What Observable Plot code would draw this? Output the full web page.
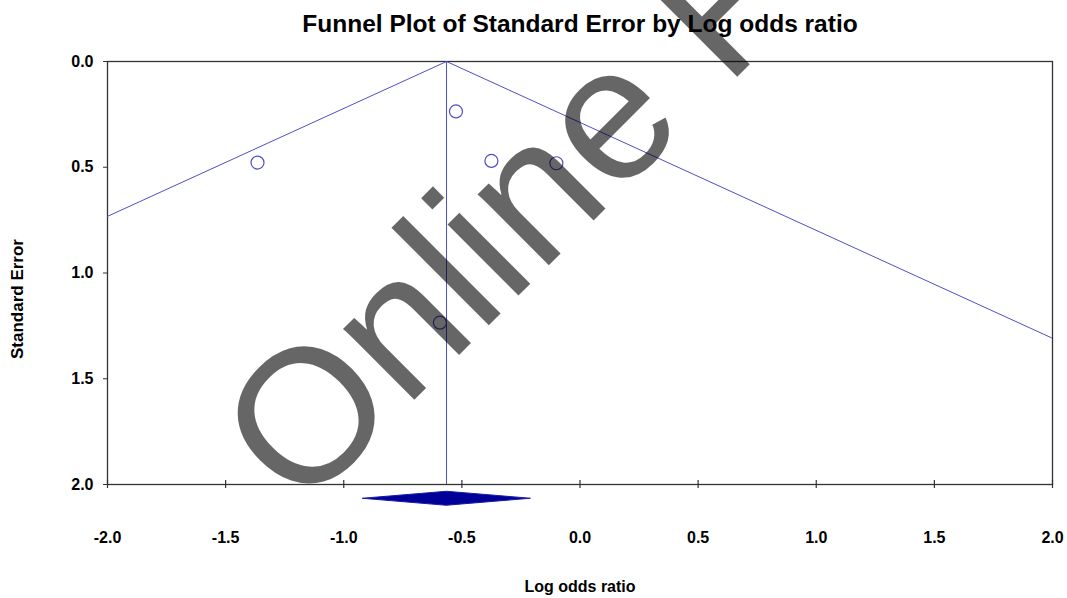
<!DOCTYPE html>
<html>
<head>
<meta charset="utf-8">
<script src="https://cdn.jsdelivr.net/npm/d3@7"></script>
<script src="https://cdn.jsdelivr.net/npm/@observablehq/plot@0.6"></script>
<style>
  html, body { margin: 0; padding: 0; background: #fff; }
  #chart svg { display: block; }
</style>
</head>
<body>
<div id="chart"></div>
<script>
// Individual studies: log odds ratio and its standard error
const studyLogOR = [-1.365, -0.525, -0.375, -0.100, -0.593];
const studySE    = [0.478, 0.236, 0.470, 0.481, 1.235];

// Pooled estimate and its 95% confidence interval
const pooledLogOR = -0.565;
const pooledLower = -0.92;
const pooledUpper = -0.21;

// Axis ticks
const xTicks = [-2.0, -1.5, -1.0, -0.5, 0.0, 0.5, 1.0, 1.5, 2.0];
const yTicks = [0.0, 0.5, 1.0, 1.5, 2.0];

const studies = studyLogOR.map((x, i) => ({x, se: studySE[i]}));

// Pseudo 95% confidence limits of the funnel, from the pooled estimate
const seMax = 2;
const funnel = [
  {x: pooledLogOR - 1.96 * seMax, se: seMax},
  {x: pooledLogOR, se: 0},
  {x: pooledLogOR + 1.96 * seMax, se: seMax}
];

// Summary diamond, drawn just below the frame
const diamondY = 2.065, diamondHalf = 0.033;
const diamond = [
  {x: pooledLower, se: diamondY},
  {x: pooledLogOR, se: diamondY - diamondHalf},
  {x: pooledUpper, se: diamondY},
  {x: pooledLogOR, se: diamondY + diamondHalf}
];

const blue = "#4f4fc9";
const fmt = d => d.toFixed(1);

const chart = Plot.plot({
  width: 1067,
  height: 598,
  marginLeft: 107,
  marginRight: 15,
  marginTop: 61,
  marginBottom: 114,
  style: {fontFamily: "'Liberation Sans', Arial, sans-serif", color: "#000", background: "#fff"},
  x: {domain: [-2, 2]},
  y: {domain: [0, 2], reverse: true},
  marks: [
    Plot.frame({stroke: "#333", strokeWidth: 1.3}),
    Plot.axisY({ticks: yTicks, tickSize: 4, tickPadding: 10, tickFormat: fmt, label: null,
      fontSize: 16, fontWeight: "bold", stroke: "#333"}),
    Plot.axisX({ticks: xTicks, tickSize: 0, tickPadding: 47, tickFormat: fmt, label: null,
      fontSize: 16, fontWeight: "bold"}),
    Plot.tickX(xTicks, {x: d => d, insetTop: 419, insetBottom: -4, stroke: "#333", strokeWidth: 1.2}),
    Plot.ruleX([pooledLogOR], {stroke: blue, strokeWidth: 1}),
    Plot.line(funnel, {x: "x", y: "se", stroke: blue, strokeWidth: 1, clip: true}),
    Plot.dot(studies, {x: "x", y: "se", r: 6.5, stroke: blue, strokeWidth: 1.2, fill: "none"}),
    Plot.line(diamond, {x: "x", y: "se", fill: "#000099", stroke: "#1a1aa8", strokeWidth: 1, curve: "linear-closed"}),
    Plot.text(["Funnel Plot of Standard Error by Log odds ratio"], {frameAnchor: "top", dy: -30,
      lineAnchor: "bottom", fontSize: 24.5, fontWeight: "bold", fill: "#000"}),
    Plot.text(["Log odds ratio"], {frameAnchor: "bottom", dy: 107, lineAnchor: "bottom",
      fontSize: 16, fontWeight: "bold", fill: "#000"}),
    Plot.text(["Standard Error"], {frameAnchor: "left", dx: -90, dy: 26, rotate: -90,
      textAnchor: "middle", fontSize: 17, fontWeight: "bold", fill: "#000"}),
    Plot.text(["Online First"], {frameAnchor: "bottom-left", dx: 193, dy: 29, rotate: -45,
      textAnchor: "start", lineAnchor: "bottom", fontSize: 190, fill: "#000", fillOpacity: 0.6})
  ]
});

document.getElementById("chart").appendChild(chart);
</script>
</body>
</html>
